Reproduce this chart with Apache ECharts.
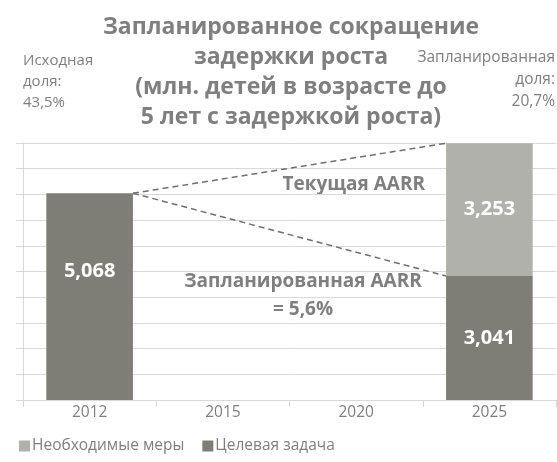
<!DOCTYPE html>
<html>
<head>
<meta charset="utf-8">
<script src="https://cdn.jsdelivr.net/npm/echarts@6/dist/echarts.min.js"></script>
<style>html,body{margin:0;padding:0;background:#fff;}#c{width:557px;height:462px;}</style>
</head>
<body>
<div id="c"></div>
<script>
const categories = ['2012', '2015', '2020', '2025'];
const targetValues = [5068, null, null, 3041];
const neededValues = [null, null, null, 3253];
const seriesNames = ['Необходимые меры', 'Целевая задача'];
const connectors = [
  [0, 5068, 3, 3041 + 3253],
  [0, 5068, 3, 3041]
];

const FONT = 'Open Sans';
const GRAY = '#7f7f7f';
const DARK = '#7f7e76';
const LIGHT = '#b1b1ab';
const fmt = v => {
  const s = String(v);
  return s.length > 3 ? s.slice(0, s.length - 3) + ',' + s.slice(-3) : s;
};

const chart = echarts.init(document.getElementById('c'), null, {renderer: 'canvas'});
chart.setOption({
  animation: false,
  textStyle: {fontFamily: FONT},
  title: {
    text: 'Запланированное сокращение\nзадержки роста\n(млн. детей в возрасте до\n5 лет с задержкой роста)',
    left: 286,
    top: 7,
    textAlign: 'center',
    textStyle: {fontFamily: FONT, fontSize: 23, fontWeight: 'bold', color: GRAY, lineHeight: 30}
  },
  grid: {left: 23, right: 1, top: 143, bottom: 62, containLabel: false},
  legend: {
    data: seriesNames,
    left: 14,
    top: 433,
    itemWidth: 11,
    itemHeight: 11,
    itemGap: 18,
    icon: 'rect',
    textStyle: {fontFamily: FONT, fontSize: 15.5, color: GRAY, padding: [0, 0, 0, -3]}
  },
  xAxis: {
    type: 'category',
    data: categories,
    axisLine: {lineStyle: {color: '#d9d9d9', width: 1}},
    axisTick: {show: true, length: 7, lineStyle: {color: '#d9d9d9'}},
    axisLabel: {fontFamily: FONT, fontSize: 15.5, color: GRAY, margin: 5}
  },
  yAxis: {
    type: 'value',
    min: 0,
    max: 6300,
    interval: 630,
    axisLabel: {show: false},
    axisLine: {show: true, lineStyle: {color: '#d9d9d9'}},
    axisTick: {show: true, inside: false, length: 7, lineStyle: {color: '#d9d9d9'}},
    splitLine: {lineStyle: {color: '#d9d9d9', width: 1}}
  },
  series: [
    {
      name: seriesNames[1],
      type: 'bar',
      stack: 'a',
      barWidth: '65%',
      data: targetValues,
      itemStyle: {color: DARK},
      label: {
        show: true,
        position: 'inside',
        color: '#ffffff',
        fontFamily: FONT,
        fontWeight: 'bold',
        fontSize: 20,
        formatter: p => fmt(p.value)
      },
      labelLayout: p => (p.dataIndex === 0 ? {dy: -25} : {})
    },
    {
      name: seriesNames[0],
      type: 'bar',
      stack: 'a',
      barWidth: '65%',
      data: neededValues,
      itemStyle: {color: LIGHT},
      label: {
        show: true,
        position: 'inside',
        color: '#ffffff',
        fontFamily: FONT,
        fontWeight: 'bold',
        fontSize: 20,
        formatter: p => fmt(p.value)
      }
    },
    {
      type: 'custom',
      silent: true,
      data: connectors,
      encode: {x: [0, 2], y: [1, 3]},
      z: 5,
      renderItem: (params, api) => {
        const p0 = api.coord([api.value(0), api.value(1)]);
        const p1 = api.coord([api.value(2), api.value(3)]);
        const hw = api.size([1, 0])[0] * 0.65 / 2;
        return {
          type: 'line',
          shape: {x1: p0[0] + hw, y1: p0[1], x2: p1[0] - hw, y2: p1[1]},
          style: {stroke: '#6f6f6f', lineWidth: 1.5, lineDash: [6, 4]}
        };
      }
    }
  ],
  graphic: [
    {type: 'text', x: 23, y: 50, style: {text: 'Исходная\nдоля:\n43,5%', fontFamily: FONT, fontSize: 15, lineHeight: 21, fill: GRAY, align: 'left', verticalAlign: 'top'}},
    {type: 'text', x: 555, y: 47, style: {text: 'Запланированная\nдоля:\n20,7%', fontFamily: FONT, fontSize: 15.5, lineHeight: 22, fill: GRAY, align: 'right', verticalAlign: 'top'}},
    {type: 'text', x: 425, y: 185, style: {text: 'Текущая AARR', fontFamily: FONT, fontSize: 19, fontWeight: 'bold', fill: GRAY, align: 'right', verticalAlign: 'middle'}},
    {type: 'text', x: 303, y: 296, style: {text: 'Запланированная AARR\n= 5,6%', fontFamily: FONT, fontSize: 19, fontWeight: 'bold', lineHeight: 28, fill: GRAY, align: 'center', verticalAlign: 'middle'}}
  ]
});
</script>
</body>
</html>
